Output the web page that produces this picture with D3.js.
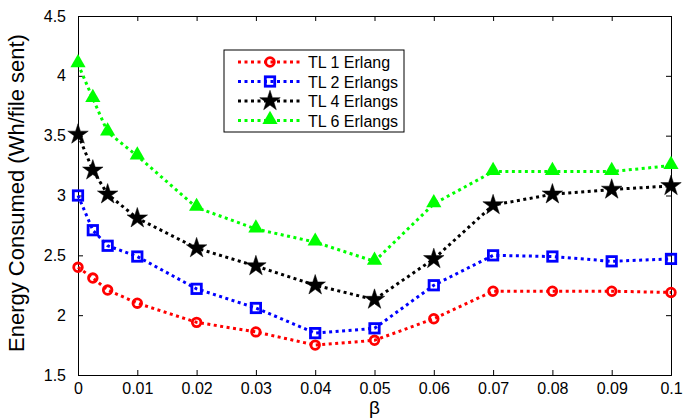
<!DOCTYPE html>
<html><head><meta charset="utf-8">
<script src="https://cdn.jsdelivr.net/npm/d3@7"></script>
<style>body{margin:0;background:#fff}svg{display:block}text{font-family:"Liberation Sans",Arial,sans-serif}</style>
</head><body><svg id="c" width="683" height="420"></svg>
<script>
const beta = [0, 0.0025, 0.005, 0.01, 0.02, 0.03, 0.04, 0.05, 0.06, 0.07, 0.08, 0.09, 0.1];
const tl1 = [2.40, 2.31, 2.21, 2.10, 1.94, 1.86, 1.75, 1.79, 1.97, 2.20, 2.20, 2.20, 2.19];
const tl2 = [3.00, 2.71, 2.58, 2.49, 2.22, 2.06, 1.85, 1.89, 2.25, 2.50, 2.49, 2.45, 2.47];
const tl4 = [3.51, 3.21, 3.01, 2.81, 2.56, 2.41, 2.25, 2.13, 2.47, 2.92, 3.01, 3.05, 3.08];
const tl6 = [4.10, 3.81, 3.53, 3.33, 2.90, 2.72, 2.61, 2.45, 2.93, 3.20, 3.20, 3.20, 3.25];
const seriesNames = ["TL 1 Erlang", "TL 2 Erlangs", "TL 4 Erlangs", "TL 6 Erlangs"];
const xTicks = [0, 0.01, 0.02, 0.03, 0.04, 0.05, 0.06, 0.07, 0.08, 0.09, 0.1];
const xTickLabels = ["0", "0.01", "0.02", "0.03", "0.04", "0.05", "0.06", "0.07", "0.08", "0.09", "0.1"];
const yTicks = [1.5, 2, 2.5, 3, 3.5, 4, 4.5];
const yTickLabels = ["1.5", "2", "2.5", "3", "3.5", "4", "4.5"];

const series = [
  {name: seriesNames[0], vals: tl1, color: "#ff0000", marker: "circle"},
  {name: seriesNames[1], vals: tl2, color: "#0000ff", marker: "square"},
  {name: seriesNames[2], vals: tl4, color: "#000000", marker: "star"},
  {name: seriesNames[3], vals: tl6, color: "#00ff00", marker: "triangle"}
];

const svg = d3.select("#c");
const L = 78, R = 671, T = 16, B = 375;
const x = d3.scaleLinear().domain([0, 0.1]).range([L, R]);
const y = d3.scaleLinear().domain([1.5, 4.5]).range([B, T]);

const g = svg.append("g");
g.append("g").attr("transform", `translate(0,${B})`)
  .call(d3.axisBottom(x).tickValues(xTicks).tickSize(-5).tickPadding(8).tickFormat((d,i)=>xTickLabels[i]));
g.append("g").attr("transform", `translate(0,${T})`)
  .call(d3.axisTop(x).tickValues(xTicks).tickSize(-5).tickFormat(""));
g.append("g").attr("transform", `translate(${L},0)`)
  .call(d3.axisLeft(y).tickValues(yTicks).tickSize(-5).tickPadding(12).tickFormat((d,i)=>yTickLabels[i]));
g.append("g").attr("transform", `translate(${R},0)`)
  .call(d3.axisRight(y).tickValues(yTicks).tickSize(-5).tickFormat(""));
g.selectAll(".domain").attr("stroke", "#000").attr("stroke-width", 1);
g.selectAll(".tick line").attr("stroke", "#000");
g.selectAll(".tick text").attr("font-size", 16).attr("fill", "#000").attr("font-family", '"Liberation Sans",Arial,sans-serif');

svg.append("text").attr("x", (L+R)/2).attr("y", 414).attr("text-anchor", "middle")
  .attr("font-size", 19).text("β");
svg.append("text").attr("transform", `translate(24,193) rotate(-90)`).attr("text-anchor", "middle")
  .attr("font-size", 22).text("Energy Consumed (Wh/file sent)");

const line = d3.line().x((d,i)=>x(beta[i])).y(d=>y(d));
const starPath = d3.symbol(d3.symbolStar, 130)();
const triPath = d3.symbol(d3.symbolTriangle, 100)();

function drawMarker(sel, s) {
  if (s.marker === "circle") {
    sel.append("circle").attr("r", 4.3).attr("fill", "none").attr("stroke", s.color).attr("stroke-width", 2.8);
  } else if (s.marker === "square") {
    sel.append("rect").attr("x", -4.7).attr("y", -4.7).attr("width", 9.4).attr("height", 9.4)
      .attr("fill", "none").attr("stroke", s.color).attr("stroke-width", 2.8);
  } else if (s.marker === "star") {
    sel.append("path").attr("d", starPath).attr("fill", s.color).attr("stroke", s.color).attr("stroke-width", 0.5);
  } else {
    sel.append("path").attr("d", triPath).attr("transform", "translate(0,-1)").attr("fill", s.color);
  }
}

series.forEach(s => {
  svg.append("path").attr("d", line(s.vals)).attr("fill", "none").attr("stroke", s.color)
    .attr("stroke-width", 3).attr("stroke-dasharray", "3,3.5");
  s.vals.forEach((v,i) => {
    const m = svg.append("g").attr("transform", `translate(${x(beta[i])},${y(v)})`);
    drawMarker(m, s);
  });
});

const lg = svg.append("g");
lg.append("rect").attr("x", 224).attr("y", 50).attr("width", 180).attr("height", 82)
  .attr("fill", "#fff").attr("stroke", "#000").attr("stroke-width", 1);
series.forEach((s, i) => {
  const yy = 62 + i * 19.5;
  lg.append("line").attr("x1", 238).attr("x2", 300).attr("y1", yy).attr("y2", yy)
    .attr("stroke", s.color).attr("stroke-width", 3).attr("stroke-dasharray", "3,3.5");
  const m = lg.append("g").attr("transform", `translate(270,${yy})`);
  drawMarker(m, s);
  lg.append("text").attr("x", 308).attr("y", yy + 6).attr("font-size", 16).text(s.name);
});
</script></body></html>
